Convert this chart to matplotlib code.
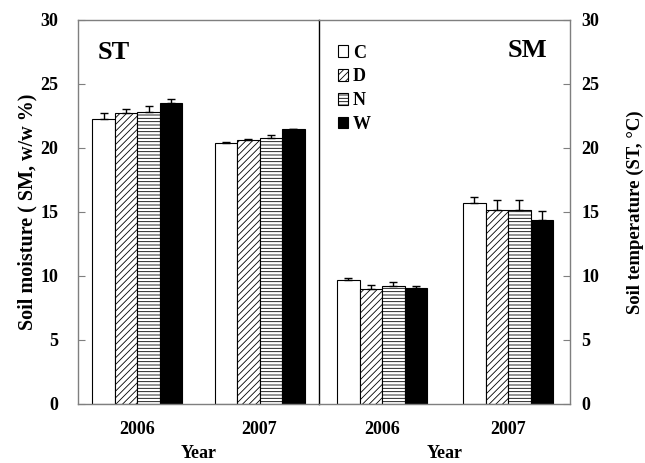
import matplotlib
matplotlib.use("Agg")
import matplotlib.pyplot as plt
from matplotlib.patches import Patch
import numpy as np

# values
years = ["2006", "2007"]
treatments = ["C", "D", "N", "W"]

# left panel (ST)
st_mean = {
    "C": [22.3, 20.4],
    "D": [22.75, 20.65],
    "N": [22.8, 20.8],
    "W": [23.5, 21.45],
}
st_err = {
    "C": [0.4, 0.1],
    "D": [0.3, 0.08],
    "N": [0.45, 0.2],
    "W": [0.3, 0.05],
}

# right panel (SM)
sm_mean = {
    "C": [9.7, 15.7],
    "D": [9.0, 15.15],
    "N": [9.25, 15.15],
    "W": [9.05, 14.4],
}
sm_err = {
    "C": [0.17, 0.5],
    "D": [0.3, 0.8],
    "N": [0.25, 0.75],
    "W": [0.2, 0.7],
}

styles = {
    "C": dict(facecolor="white", hatch=None),
    "D": dict(facecolor="white", hatch="/////"),
    "N": dict(facecolor="white", hatch="-----"),
    "W": dict(facecolor="black", hatch=None),
}

plt.rcParams["font.family"] = ["Liberation Serif", "DejaVu Serif"]
plt.rcParams["font.weight"] = "bold"
plt.rcParams["hatch.linewidth"] = 0.6
plt.rcParams["hatch.color"] = "black"

SPINE = "#7f7f7f"
FS = 13

fig = plt.figure(figsize=(6.45, 4.63), dpi=100)
ax_l = fig.add_axes([78 / 645, 1 - 404 / 463, 241 / 645, 384 / 463])
ax_r = fig.add_axes([319 / 645, 1 - 404 / 463, 251 / 645, 384 / 463])


def draw_panel(ax, means, errs, centers):
    for i, t in enumerate(treatments):
        x = np.array(centers) - 1.5 + i
        st = styles[t]
        ax.bar(x, means[t], width=1.0, color=st["facecolor"], edgecolor="black",
               linewidth=0.8, hatch=st["hatch"], zorder=2)
        ax.errorbar(x, means[t], yerr=[np.zeros(len(errs[t])), errs[t]], fmt="none",
                    ecolor="black", elinewidth=1.0, capsize=3, capthick=1.0, zorder=3)
    ax.set_xticks(centers)
    ax.set_xticklabels(years, fontsize=FS, fontweight="bold")
    ax.tick_params(axis="x", length=0, pad=12)
    ax.set_ylim(0, 30)
    ax.set_yticks(range(0, 31, 5))
    ax.set_xlabel("Year", fontsize=FS, fontweight="bold", labelpad=5)
    for s in ax.spines.values():
        s.set_color(SPINE)
        s.set_linewidth(1.0)


draw_panel(ax_l, st_mean, st_err, [2.64, 8.07])
ax_l.set_xlim(0, 241 / 22.5)
ax_l.tick_params(axis="y", direction="in", length=5, color=SPINE, labelsize=FS, pad=14)
ax_l.spines["right"].set_visible(False)
ax_l.set_ylabel("Soil moisture ( SM, w/w %)", fontsize=14.5, fontweight="bold", labelpad=2)
ax_l.text(0.08, 0.945, "ST", transform=ax_l.transAxes, fontsize=19, fontweight="bold",
          va="top", ha="left")

draw_panel(ax_r, sm_mean, sm_err, [2.8, 8.4])
ax_r.set_xlim(0, 251 / 22.5)
ax_r.patch.set_alpha(0)
ax_r.yaxis.tick_right()
ax_r.yaxis.set_label_position("right")
ax_r.tick_params(axis="y", direction="in", length=5, color=SPINE, labelsize=FS, pad=8)
ax_r.spines["left"].set_color("black")
ax_r.set_ylabel("Soil temperature (ST, \u00b0C)", fontsize=13.5, fontweight="bold", labelpad=20)
ax_r.text(0.91, 0.95, "SM", transform=ax_r.transAxes, fontsize=19, fontweight="bold",
          va="top", ha="right")

handles = [Patch(facecolor=styles[t]["facecolor"], edgecolor="black", linewidth=0.8,
                 hatch=styles[t]["hatch"]) for t in treatments]
ax_r.legend(handles, treatments, loc="upper left", bbox_to_anchor=(0.045, 0.955),
            frameon=False, handlelength=0.6, handleheight=0.6, handletextpad=0.25,
            labelspacing=0.38, borderaxespad=0,
            prop={"family": "Liberation Serif", "weight": "bold", "size": FS})

fig.savefig("out.png", dpi=100)
